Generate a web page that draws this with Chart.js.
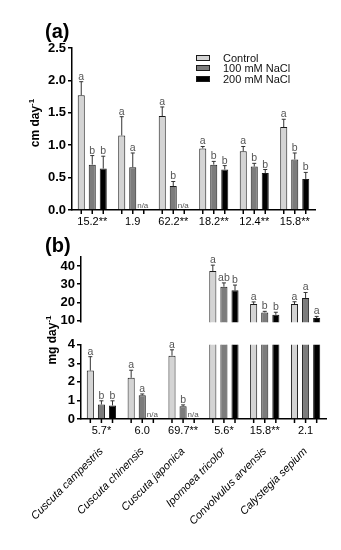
<!DOCTYPE html>
<html>
<head>
<meta charset="utf-8">
<script src="https://cdn.jsdelivr.net/npm/chart.js@4.4.1/dist/chart.umd.min.js"></script>
<style>
  body { margin: 0; background: #fff; }
  #wrap { position: relative; width: 341px; height: 550px; font-family: "Liberation Sans", Arial, sans-serif; color: #000; }
  canvas { position: absolute; left: 0; }
  .lbl { position: absolute; font-weight: bold; white-space: nowrap; line-height: 1; }
  .ytitle { position: absolute; width: 100px; height: 16px; line-height: 16px; text-align: center;
            font-weight: bold; font-size: 12px; transform: rotate(-90deg); white-space: nowrap; }
  .ytitle sup { font-size: 8px; line-height: 0; }
</style>
</head>
<body>
<div id="wrap">
  <canvas id="chartA" width="341" height="232" style="top:0px"></canvas>
  <canvas id="chartB1" width="341" height="92" style="top:240px"></canvas>
  <canvas id="chartB2" width="341" height="215" style="top:335px"></canvas>
  <div class="lbl" style="left:45px; top:21px; font-size:20px">(a)</div>
  <div class="lbl" style="left:45px; top:235px; font-size:20px">(b)</div>
  <div class="ytitle" style="left:-15px; top:115px">cm day<sup>-1</sup></div>
  <div class="ytitle" style="left:2px; top:332px">mg day<sup>-1</sup></div>
</div>
<script>
const FONT = '"Liberation Sans", Arial, sans-serif';

// categorias y tratamientos
const species = ['Cuscuta campestris', 'Cuscuta chinensis', 'Cuscuta japonica',
                 'Ipomoea tricolor', 'Convolvulus arvensis', 'Calystegia sepium'];
const treatments = ['Control', '100 mM NaCl', '200 mM NaCl'];

// valores F bajo cada grupo
const fLength = ['15.2**', '1.9', '62.2**', '18.2**', '12.4**', '15.8**'];
const fMass = ['5.7*', '6.0', '69.7**', '5.6*', '15.8**', '2.1'];

// marcas del eje y
const ticksLength = [0, 0.5, 1, 1.5, 2, 2.5];
const ticksMassTop = [10, 20, 30, 40];
const ticksMassBottom = [0, 1, 2, 3, 4];

// (a) crecimiento, cm day-1
const lenControl = [1.77, 1.15, 1.45, 0.95, 0.905, 1.28];
const len100 = [0.70, 0.66, 0.37, 0.70, 0.67, 0.78];
const len200 = [0.64, null, null, 0.625, 0.57, 0.48];
const lenErrControl = [0.21, 0.29, 0.14, 0.03, 0.075, 0.12];
const lenErr100 = [0.14, 0.22, 0.07, 0.05, 0.05, 0.10];
const lenErr200 = [0.19, null, null, 0.06, 0.055, 0.10];
const lenLetControl = ['a', 'a', 'a', 'a', 'a', 'a'];
const lenLet100 = ['b', 'a', 'b', 'b', 'b', 'b'];
const lenLet200 = ['b', 'n/a', 'n/a', 'b', 'b', 'b'];

// (b) biomasa, mg day-1
const massControl = [2.61, 2.22, 3.41, 37.3, 19.0, 19.0];
const mass100 = [0.78, 1.28, 0.69, 28.6, 14.4, 22.4];
const mass200 = [0.73, null, null, 26.6, 13.1, 11.3];
const massErrControl = [0.75, 0.41, 0.32, 3.2, 1.2, 1.3];
const massErr100 = [0.20, 0.07, 0.07, 2.1, 0.6, 3.0];
const massErr200 = [0.25, null, null, 2.9, 1.4, 0.9];
const massLetControl = ['a', 'a', 'a', 'a', 'a', 'a'];
const massLet100 = ['b', 'a', 'b', 'ab', 'b', 'a'];
const massLet200 = ['b', 'n/a', 'n/a', 'b', 'b', 'a'];

const fills = ['#d4d4d4', '#7c7c7c', '#000000'];

function makeDatasets(values, errors, letters) {
  return treatments.map((t, k) => ({
    label: t,
    data: values[k],
    errors: errors[k],
    letters: letters[k],
    backgroundColor: fills[k],
    borderColor: '#1a1a1a',
    borderWidth: 1,
    categoryPercentage: 0.815,
    barPercentage: 0.64,
    clip: 0
  }));
}

function yAxis(min, max, width, tickValues, fmt) {
  return {
    min: min,
    max: max,
    ticks: { font: { family: FONT, size: 13, weight: 'bold' }, color: '#000', padding: 2, autoSkip: false,
             callback: fmt || (v => v) },
    grid: { drawOnChartArea: false, tickLength: 4, color: '#000', lineWidth: 1.5 },
    border: { color: '#000', width: 1.5 },
    afterFit: s => { s.width = width; },
    afterBuildTicks: s => { s.ticks = tickValues.map(v => ({ value: v })); }
  };
}

// barras de error, letras, n/a y marcas bajo cada barra
const marksPlugin = {
  id: 'marks',
  afterDatasetsDraw(chart, args, opts) {
    const ctx = chart.ctx;
    const area = chart.chartArea;
    const y = chart.scales.y;
    ctx.save();
    ctx.textAlign = 'center';
    ctx.textBaseline = 'alphabetic';
    chart.data.datasets.forEach((ds, di) => {
      chart.getDatasetMeta(di).data.forEach((bar, i) => {
        const v = ds.data[i];
        const x = bar.x;
        if (opts.ticks) {
          ctx.strokeStyle = '#000';
          ctx.lineWidth = 1.5;
          ctx.beginPath();
          ctx.moveTo(x, area.bottom);
          ctx.lineTo(x, area.bottom + 4);
          ctx.stroke();
        }
        ctx.fillStyle = '#555';
        if (v === null) {
          if (opts.na) {
            ctx.font = '8px ' + FONT;
            ctx.fillText(ds.letters[i], x - 1, area.bottom - 2);
          }
          return;
        }
        if (v < y.min || v > y.max) return;
        const yBar = y.getPixelForValue(v);
        const yTop = y.getPixelForValue(v + ds.errors[i]);
        ctx.strokeStyle = '#333';
        ctx.lineWidth = 1;
        ctx.beginPath();
        ctx.moveTo(x, yBar);
        ctx.lineTo(x, yTop);
        ctx.moveTo(x - 2, yTop);
        ctx.lineTo(x + 2, yTop);
        ctx.stroke();
        ctx.font = '10.5px ' + FONT;
        ctx.fillText(ds.letters[i], x, yTop - 2);
      });
    });
    ctx.restore();
  }
};

// leyenda en columna dentro del panel (a)
const legendPlugin = {
  id: 'boxLegend',
  afterDraw(chart, args, opts) {
    const ctx = chart.ctx;
    ctx.save();
    ctx.font = '11px ' + FONT;
    ctx.textBaseline = 'middle';
    ctx.textAlign = 'left';
    chart.data.datasets.forEach((ds, i) => {
      const yy = Math.round(opts.top + i * opts.gap);
      ctx.fillStyle = ds.backgroundColor;
      ctx.fillRect(opts.left, yy - 3, 14, 6);
      ctx.strokeStyle = ds.borderColor;
      ctx.lineWidth = 1;
      ctx.strokeRect(opts.left + 0.5, yy - 2.5, 13, 5);
      ctx.fillStyle = '#111';
      ctx.fillText(ds.label, opts.textLeft, yy + 0.5);
    });
    ctx.restore();
  }
};

const xTicks = { font: { family: FONT, size: 11 }, color: '#000', padding: 5 };

// panel (a)
new Chart(document.getElementById('chartA'), {
  type: 'bar',
  data: {
    labels: fLength,
    datasets: makeDatasets([lenControl, len100, len200],
                           [lenErrControl, lenErr100, lenErr200],
                           [lenLetControl, lenLet100, lenLet200])
  },
  options: {
    responsive: false,
    animation: false,
    devicePixelRatio: 1,
    layout: { padding: { top: 48, right: 26, bottom: 0, left: 0 } },
    plugins: {
      legend: { display: false },
      tooltip: { enabled: false },
      marks: { ticks: true, na: true },
      boxLegend: { left: 196, textLeft: 223, top: 57.5, gap: 10.7 }
    },
    scales: {
      x: { offset: true, grid: { display: false, drawTicks: false }, border: { color: '#000', width: 1.5 },
           ticks: xTicks, afterFit: s => { s.height = 22; } },
      y: yAxis(0, 2.5, 72, ticksLength, v => v.toFixed(1))
    }
  },
  plugins: [marksPlugin, legendPlugin]
});

const massDatasets = () => makeDatasets([massControl, mass100, mass200],
                                        [massErrControl, massErr100, massErr200],
                                        [massLetControl, massLet100, massLet200]);

// panel (b), tramo superior del eje cortado
new Chart(document.getElementById('chartB1'), {
  type: 'bar',
  data: { labels: fMass, datasets: massDatasets() },
  options: {
    responsive: false,
    animation: false,
    devicePixelRatio: 1,
    layout: { padding: { top: 17, right: 15, bottom: 1, left: 0 } },
    plugins: { legend: { display: false }, tooltip: { enabled: false }, marks: { ticks: false, na: false } },
    scales: {
      x: { display: false, offset: true },
      y: yAxis(9, 45, 81, ticksMassTop)
    }
  },
  plugins: [marksPlugin]
});

// panel (b), tramo inferior con etiquetas de especies
new Chart(document.getElementById('chartB2'), {
  type: 'bar',
  data: { labels: fMass, datasets: massDatasets() },
  options: {
    responsive: false,
    animation: false,
    devicePixelRatio: 1,
    layout: { padding: { top: 9, right: 15, bottom: 0, left: 0 } },
    plugins: { legend: { display: false }, tooltip: { enabled: false }, marks: { ticks: true, na: true } },
    scales: {
      x: { offset: true, weight: 0, grid: { display: false, drawTicks: false }, border: { color: '#000', width: 1.5 },
           ticks: xTicks, afterFit: s => { s.height = 18; } },
      x2: { type: 'category', labels: species, position: 'bottom', offset: true, weight: 1,
            grid: { display: false, drawTicks: false }, border: { display: false },
            ticks: { font: { family: FONT, size: 11, style: 'italic' }, color: '#000', padding: 8,
                     minRotation: 45, maxRotation: 45, autoSkip: false },
            afterFit: s => { s.height = 113; } },
      y: yAxis(0, 4, 81, ticksMassBottom)
    }
  },
  plugins: [marksPlugin]
});
</script>
</body>
</html>
